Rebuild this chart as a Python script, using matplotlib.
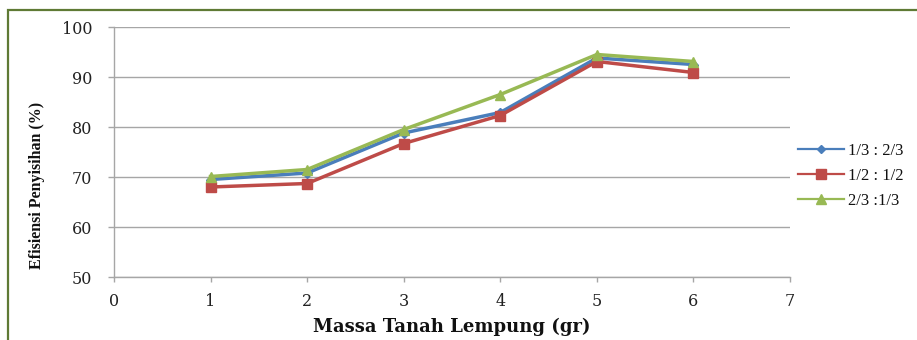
import matplotlib
matplotlib.use("Agg")
import matplotlib.pyplot as plt
from matplotlib.lines import Line2D
from matplotlib.patches import Rectangle

# Clay mass (g) and removal efficiency (%) for three mixing ratios
massa = [1, 2, 3, 4, 5, 6]
rasio_1_3 = [69.5, 70.8, 78.8, 82.9, 93.8, 92.5]
rasio_1_2 = [68.0, 68.7, 76.7, 82.3, 93.1, 90.9]
rasio_2_3 = [70.1, 71.5, 79.5, 86.5, 94.5, 93.1]
labels = ["1/3 : 2/3", "1/2 : 1/2", "2/3 :1/3"]
colors = ["#4A7EBB", "#BE4B48", "#98B954"]
markers = ["D", "s", "^"]
msizes = [5, 7, 7.5]

x_ticks = [0, 1, 2, 3, 4, 5, 6, 7]
y_ticks = [50, 60, 70, 80, 90, 100]

W, H = 917, 340
fig = plt.figure(figsize=(W / 100, H / 100), dpi=100)
fig.patch.set_facecolor("white")

# olive frame around the chart area
fig.patches.append(Rectangle((8 / W, -0.2), 1.2, 1.2 - 10 / H,
                             transform=fig.transFigure, fill=False,
                             edgecolor="#5f7a35", linewidth=1.6))

ax = fig.add_axes([114 / W, 1 - 277 / H, (790 - 114) / W, (277 - 27) / H])
grid_c = "#a6a6a6"

for ys, c, m, ms in zip([rasio_1_3, rasio_1_2, rasio_2_3], colors, markers, msizes):
    ax.plot(massa, ys, color=c, linewidth=2.5, marker=m, markersize=ms,
            markeredgecolor=c, markerfacecolor=c, zorder=3)

ax.set_xlim(0, 7)
ax.set_ylim(50, 100)
ax.set_xticks(x_ticks)
ax.set_yticks(y_ticks)
ax.yaxis.grid(True, color=grid_c, linewidth=1.0)
ax.set_axisbelow(True)
for s in ["top", "right"]:
    ax.spines[s].set_visible(False)
for s in ["left", "bottom"]:
    ax.spines[s].set_color(grid_c)
    ax.spines[s].set_linewidth(1.0)

ax.tick_params(axis="y", direction="out", length=4.5, width=1.0, color=grid_c, pad=11)
ax.tick_params(axis="x", direction="out", length=3.5, width=1.0, color=grid_c, pad=8)
for lab in ax.get_xticklabels() + ax.get_yticklabels():
    lab.set_fontfamily("DejaVu Serif")
    lab.set_fontsize(11.5)
    lab.set_color("#222222")

fig.text(452 / W, 1 - 327 / H, "Massa Tanah Lempung (gr)", ha="center", va="center",
         fontfamily="DejaVu Serif", fontweight="bold", fontsize=13, color="#111111")
fig.text(37 / W, 1 - 185 / H, "Efisiensi Penyisihan (%)", ha="center", va="center",
         rotation=90, fontfamily="Liberation Serif", fontweight="bold", fontsize=11.5,
         color="#111111")

handles = [Line2D([], [], color=c, linewidth=1.6, marker=m, markersize=ms,
                  markeredgecolor=c, markerfacecolor=c)
           for c, m, ms in zip(colors, markers, [4.5, 7, 6.5])]
leg = fig.legend(handles, labels, loc="center left",
                 bbox_to_anchor=(796 / W, 1 - 176 / H), frameon=False,
                 prop={"family": "Liberation Serif", "size": 12},
                 handlelength=2.8, handletextpad=0.25, labelspacing=0.55,
                 borderaxespad=0, borderpad=0.1)
for t in leg.get_texts():
    t.set_color("#111111")

fig.savefig("out.png", dpi=100, facecolor="white")
